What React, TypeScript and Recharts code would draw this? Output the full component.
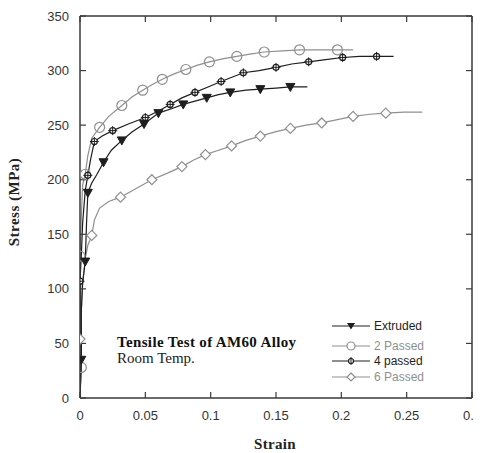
import React from 'react';
import { LineChart, Line, XAxis, YAxis } from 'recharts';

// ---- Data ----
const extrudedStrain = [0, 0.001, 0.001, 0.002, 0.004, 0.005, 0.006, 0.009, 0.013, 0.018, 0.024, 0.032, 0.04, 0.049, 0.06, 0.07, 0.079, 0.088, 0.097, 0.106, 0.115, 0.127, 0.138, 0.15, 0.161, 0.174];
const extrudedStress = [0, 35, 80, 105, 125, 160, 188, 197, 205, 216, 227, 236, 244, 251, 261, 265, 269, 272, 275, 278, 280, 282, 283, 284, 285, 285];
const extrudedMarks = [1, 4, 6, 9, 11, 13, 14, 16, 18, 20, 22, 24];

const pass2Strain = [0, 0.001, 0.001, 0.0, 0.001, 0.002, 0.004, 0.006, 0.009, 0.015, 0.022, 0.032, 0.04, 0.048, 0.055, 0.063, 0.072, 0.081, 0.09, 0.099, 0.11, 0.12, 0.13, 0.141, 0.155, 0.168, 0.183, 0.197, 0.209];
const pass2Stress = [0, 28, 70, 130, 165, 195, 205, 222, 238, 248, 258, 268, 276, 282, 287, 292, 297, 301, 305, 308, 311, 313, 315, 317, 318, 319, 319, 319, 319];
const pass2Marks = [1, 3, 6, 9, 11, 13, 15, 17, 19, 21, 23, 25, 27];

const pass4Strain = [0, 0.001, 0.0, 0.001, 0.002, 0.004, 0.006, 0.008, 0.011, 0.017, 0.025, 0.037, 0.05, 0.06, 0.069, 0.078, 0.088, 0.098, 0.108, 0.125, 0.137, 0.15, 0.162, 0.175, 0.188, 0.201, 0.214, 0.227, 0.24];
const pass4Stress = [0, 40, 107, 130, 160, 190, 204, 218, 235, 240, 245, 251, 257, 263, 269, 275, 280, 285, 290, 298, 300, 303, 306, 308, 310, 312, 313, 313, 313];
const pass4Marks = [2, 6, 8, 10, 12, 14, 16, 18, 19, 21, 23, 25, 27];

const pass6Strain = [0, 0.0, 0.001, 0.002, 0.004, 0.006, 0.009, 0.011, 0.015, 0.022, 0.031, 0.043, 0.055, 0.067, 0.078, 0.087, 0.096, 0.106, 0.116, 0.127, 0.138, 0.15, 0.161, 0.173, 0.185, 0.197, 0.209, 0.222, 0.234, 0.248, 0.262];
const pass6Stress = [0, 54, 80, 105, 128, 140, 149, 163, 174, 180, 184, 192, 200, 206, 212, 218, 223, 227, 231, 236, 240, 244, 247, 250, 252, 255, 258, 260, 261, 262, 262];
const pass6Marks = [1, 6, 10, 12, 14, 16, 18, 20, 22, 24, 26, 28];

const xTicks = [0, 0.05, 0.1, 0.15, 0.2, 0.25, 0.3];
const yTicks = [0, 50, 100, 150, 200, 250, 300, 350];

const seriesNames = ['Extruded', '2 Passed', '4 passed', '6 Passed'];

const build = (xs: number[], ys: number[], marks: number[]) =>
  xs.map((x, i) => ({ strain: x, stress: ys[i], mark: marks.includes(i) }));

const extrudedData = build(extrudedStrain, extrudedStress, extrudedMarks);
const pass2Data = build(pass2Strain, pass2Stress, pass2Marks);
const pass4Data = build(pass4Strain, pass4Stress, pass4Marks);
const pass6Data = build(pass6Strain, pass6Stress, pass6Marks);

const DARK = '#1e1e1e';
const GRAY = '#8f8f8f';

type Kind = 'tri' | 'circle' | 'cross' | 'diamond';

const Marker = ({ kind, x, y }: { kind: Kind; x: number; y: number }) => {
  if (kind === 'tri') {
    return <path d={`M${x - 4.5},${y - 3.5} L${x + 4.5},${y - 3.5} L${x},${y + 4.5} Z`} fill={DARK} stroke={DARK} strokeWidth={1} />;
  }
  if (kind === 'circle') {
    return <circle cx={x} cy={y} r={5} fill="none" stroke={GRAY} strokeWidth={1.2} />;
  }
  if (kind === 'cross') {
    return (
      <g>
        <circle cx={x} cy={y} r={3} fill="#fff" stroke={DARK} strokeWidth={1.2} />
        <line x1={x - 4.5} y1={y} x2={x + 4.5} y2={y} stroke={DARK} strokeWidth={1} />
        <line x1={x} y1={y - 4.5} x2={x} y2={y + 4.5} stroke={DARK} strokeWidth={1} />
      </g>
    );
  }
  return <path d={`M${x},${y - 5} L${x + 5},${y} L${x},${y + 5} L${x - 5},${y} Z`} fill="#fff" stroke={GRAY} strokeWidth={1.2} />;
};

const dotFor = (kind: Kind) => (p: any) => {
  if (!p || !p.payload || !p.payload.mark) return <g key={`d-${kind}-${p?.index}`} />;
  return (
    <g key={`d-${kind}-${p.index}`}>
      <Marker kind={kind} x={p.cx} y={p.cy} />
    </g>
  );
};

const tickStyle = { fontFamily: '"Liberation Sans", Arial, sans-serif', fontSize: 13, fill: '#333' };
const axisLineStyle = { stroke: '#3a3a3a', strokeWidth: 1.5 };
const tickLineStyle = { stroke: '#3a3a3a', strokeWidth: 1.2 };

// legend rows, page coordinates
const legendRows: { name: string; kind: Kind; color: string; y: number }[] = [
  { name: seriesNames[0], kind: 'tri', color: DARK, y: 326 },
  { name: seriesNames[1], kind: 'circle', color: GRAY, y: 346 },
  { name: seriesNames[2], kind: 'cross', color: DARK, y: 361 },
  { name: seriesNames[3], kind: 'diamond', color: GRAY, y: 377 },
];

const LegendMarker = ({ kind, x, y }: { kind: Kind; x: number; y: number }) => {
  if (kind === 'tri') return <path d={`M${x - 4},${y - 3} L${x + 4},${y - 3} L${x},${y + 3.5} Z`} fill={DARK} />;
  if (kind === 'circle') return <circle cx={x} cy={y} r={4} fill="#fff" stroke={GRAY} strokeWidth={1.2} />;
  if (kind === 'cross')
    return (
      <g>
        <circle cx={x} cy={y} r={2.5} fill="#fff" stroke={DARK} strokeWidth={1.2} />
        <line x1={x} y1={y - 4} x2={x} y2={y + 4} stroke={DARK} strokeWidth={1} />
      </g>
    );
  return <path d={`M${x},${y - 4} L${x + 4},${y} L${x},${y + 4} L${x - 4},${y} Z`} fill="#fff" stroke={GRAY} strokeWidth={1.2} />;
};

const serif = '"Liberation Serif", "Times New Roman", serif';

export default function App() {
  return (
    <div style={{ position: 'relative', width: 473, height: 445 }}>
      <style>{`.recharts-surface{overflow:visible}.recharts-wrapper{overflow:visible}`}</style>
      <LineChart width={473} height={445} margin={{ top: 0, right: 1, bottom: 15, left: 12 }} style={{ overflow: 'visible' }}>
        <XAxis
          xAxisId="b"
          type="number"
          dataKey="strain"
          domain={[0, 0.3]}
          ticks={xTicks}
          interval={0}
          allowDataOverflow
          height={40}
          tickSize={-6}
          tickMargin={19}
          tick={tickStyle}
          axisLine={axisLineStyle}
          tickLine={tickLineStyle}
        />
        <XAxis
          xAxisId="t"
          orientation="top"
          type="number"
          dataKey="strain"
          domain={[0, 0.3]}
          ticks={xTicks}
          interval={0}
          allowDataOverflow
          height={8}
          tickSize={-6}
          tickFormatter={() => ''}
          axisLine={axisLineStyle}
          tickLine={tickLineStyle}
        />
        <YAxis
          yAxisId="l"
          type="number"
          domain={[0, 350]}
          ticks={yTicks}
          interval={0}
          allowDataOverflow
          width={60}
          tickSize={-6}
          tickMargin={17}
          tick={tickStyle}
          axisLine={axisLineStyle}
          tickLine={tickLineStyle}
        />
        <YAxis
          yAxisId="r"
          orientation="right"
          type="number"
          domain={[0, 350]}
          ticks={yTicks}
          interval={0}
          allowDataOverflow
          width={8}
          tickSize={-6}
          tickFormatter={() => ''}
          axisLine={axisLineStyle}
          tickLine={tickLineStyle}
        />
        <Line xAxisId="b" yAxisId="l" data={pass6Data} dataKey="stress" name={seriesNames[3]} type="linear" stroke={GRAY} strokeWidth={1.2} dot={dotFor('diamond')} activeDot={false} isAnimationActive={false} />
        <Line xAxisId="b" yAxisId="l" data={pass2Data} dataKey="stress" name={seriesNames[1]} type="linear" stroke={GRAY} strokeWidth={1.2} dot={dotFor('circle')} activeDot={false} isAnimationActive={false} />
        <Line xAxisId="b" yAxisId="l" data={extrudedData} dataKey="stress" name={seriesNames[0]} type="linear" stroke={DARK} strokeWidth={1.2} dot={dotFor('tri')} activeDot={false} isAnimationActive={false} />
        <Line xAxisId="b" yAxisId="l" data={pass4Data} dataKey="stress" name={seriesNames[2]} type="linear" stroke={DARK} strokeWidth={1.2} dot={dotFor('cross')} activeDot={false} isAnimationActive={false} />
      </LineChart>
      <svg width={481} height={453} style={{ position: 'absolute', left: -8, top: -8, pointerEvents: 'none', overflow: 'visible' }}>
        <text
          x={14}
          y={202}
          transform="rotate(-90 14 202)"
          textAnchor="middle"
          dominantBaseline="central"
          style={{ fontFamily: serif, fontWeight: 'bold', fontSize: 15, letterSpacing: 0.5, fill: '#222' }}
        >
          Stress (MPa)
        </text>
        <text x={275} y={449} textAnchor="middle" style={{ fontFamily: serif, fontWeight: 'bold', fontSize: 15, letterSpacing: 0.3, fill: '#222' }}>
          Strain
        </text>
        <text x={117} y={347} style={{ fontFamily: serif, fontWeight: 'bold', fontSize: 15, letterSpacing: 0.35, fill: '#111' }}>
          Tensile Test of AM60 Alloy
        </text>
        <text x={117} y={363} style={{ fontFamily: serif, fontSize: 15, fill: '#222' }}>
          Room Temp.
        </text>
        {legendRows.map((r) => (
          <g key={r.name}>
            <line x1={332} y1={r.y} x2={370} y2={r.y} stroke={r.color} strokeWidth={1.2} />
            <LegendMarker kind={r.kind} x={351} y={r.y} />
            <text x={374} y={r.y + 4.3} style={{ fontFamily: '"Liberation Sans", Arial, sans-serif', fontSize: 12, fill: r.color }}>
              {r.name}
            </text>
          </g>
        ))}
      </svg>
    </div>
  );
}
